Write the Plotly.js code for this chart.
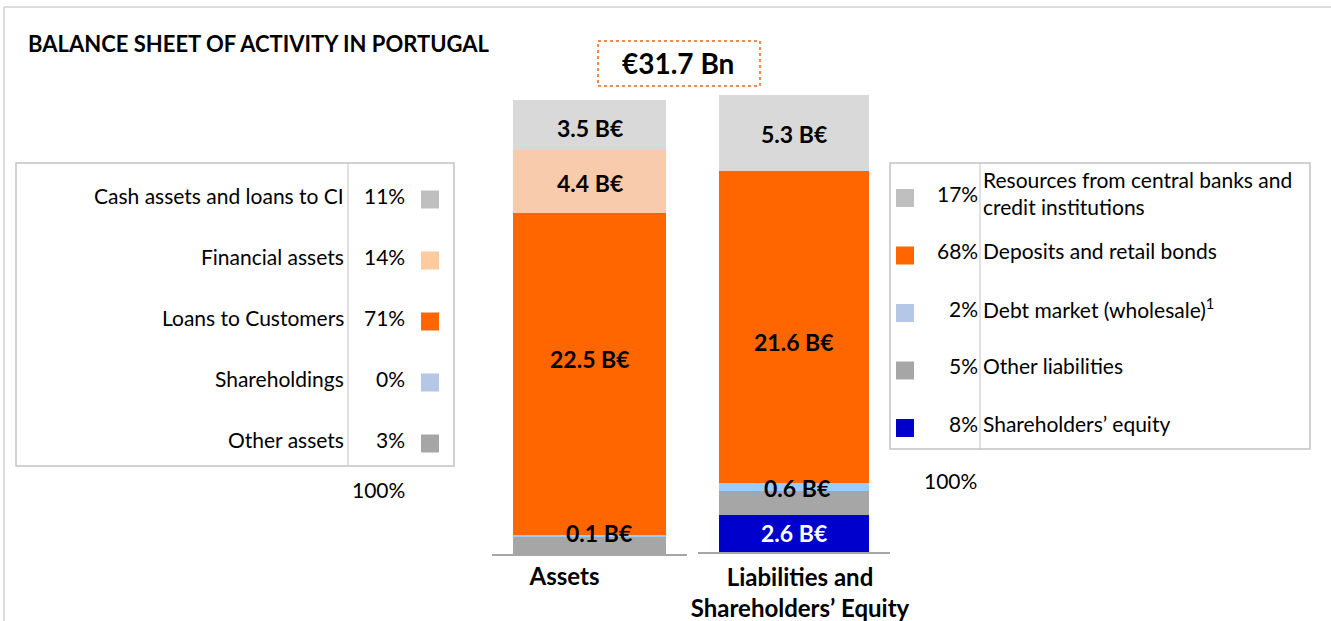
<!DOCTYPE html>
<html><head><meta charset="utf-8">
<script src="https://cdn.plot.ly/plotly-3.0.1.min.js"></script>
<style>html,body{margin:0;padding:0;background:#fff;overflow:hidden}#chart{width:1331px;height:621px}</style>
</head><body><div id="chart"></div>
<script>
// ---------- DATA ----------
const chartTitle = 'BALANCE SHEET OF ACTIVITY IN PORTUGAL';
const barCategories = ['Assets', 'Liabilities and<br>Shareholders’ Equity'];

// Assets, listed top to bottom as in the left table
const assetItems  = ['Cash assets and loans to CI', 'Financial assets', 'Loans to Customers', 'Shareholdings', 'Other assets'];
const assetValues = [3.5, 4.4, 22.5, 0.1, 1.2];          // B€
const assetPct    = [11, 14, 71, 0, 3];                   // %
const assetShowLabel = [true, true, true, true, false];

// Liabilities, listed top to bottom as in the right table
const liabItems  = ['Resources from central banks and<br>credit institutions', 'Deposits and retail bonds', 'Debt market (wholesale)<sup>1</sup>', 'Other liabilities', 'Shareholders’ equity'];
const liabValues = [5.3, 21.6, 0.6, 1.6, 2.6];            // B€
const liabPct    = [17, 68, 2, 5, 8];                     // %
const liabShowLabel = [true, true, true, false, true];

const totalPctLabel = '100%';

// ---------- STYLE ----------
const W = 1331, H = 621;
const FONT = 'Lato, "Open Sans", sans-serif';
const assetBarColors = ['#d9d9d9', '#f8cbad', '#ff6600', '#99ccff', '#a6a6a6'];
const assetKeyColors = ['#bfbfbf', '#fdcb9d', '#ff6600', '#b4c7e7', '#a6a6a6'];
const liabBarColors  = ['#d9d9d9', '#ff6600', '#99ccff', '#a6a6a6', '#0000cc'];
const liabKeyColors  = ['#bfbfbf', '#ff6600', '#b4c7e7', '#a6a6a6', '#0000cc'];
const assetLabelShift = [{dx:0,dy:-3},{dx:0,dy:-1},{dx:0,dy:15},{dx:9,dy:3},{dx:0,dy:0}];
const liabLabelShift  = [{dx:0,dy:-1},{dx:0,dy:-15},{dx:3,dy:-1},{dx:0,dy:0},{dx:0,dy:0}];
const liabLabelColor  = ['#000','#000','#000','#000','#ffffff'];

const px = x => x / W;
const py = y => 1 - y / H;

// ---------- TRACES ----------
const traces = [];
const annotations = [];
function stackTraces(items, values, colors, cat, xa, ya, show, shifts, labelColors) {
  // bottom to top
  let base = 0;
  for (let i = items.length - 1; i >= 0; i--) {
    traces.push({
      type: 'bar', x: [cat], y: [values[i]], name: items[i],
      xaxis: xa, yaxis: ya, width: 0.78,
      marker: {color: colors[i], line: {width: 0}},
      hoverinfo: 'skip', showlegend: false
    });
    if (show[i]) {
      annotations.push({
        xref: xa, yref: ya, x: cat, y: base + values[i] / 2,
        text: '<b>' + values[i].toFixed(1) + ' B€</b>', showarrow: false,
        xshift: shifts[i].dx, yshift: shifts[i].dy,
        font: {family: FONT, size: 23, color: labelColors ? labelColors[i] : '#000'}
      });
    }
    base += values[i];
  }
}
stackTraces(assetItems, assetValues, assetBarColors, barCategories[0], 'x', 'y', assetShowLabel, assetLabelShift, null);
stackTraces(liabItems, liabValues, liabBarColors, barCategories[1], 'x2', 'y2', liabShowLabel, liabLabelShift, liabLabelColor);

const total = assetValues.reduce((a, b) => a + b, 0);

// ---------- TEXT / TABLES ----------
annotations.push({xref:'paper', yref:'paper', x: px(26), y: py(44), xanchor:'left', yanchor:'middle',
  text:'<b>' + chartTitle + '</b>', showarrow:false, font:{family:FONT, size:22, color:'#000'}});
annotations.push({xref:'paper', yref:'paper', x: px(678), y: py(63), xanchor:'center', yanchor:'middle',
  text:'<b>€' + total.toFixed(1) + ' Bn</b>', showarrow:false, font:{family:FONT, size:28, color:'#000'}});

const shapes = [
  // outer frame (top + left)
  {type:'line', xref:'paper', yref:'paper', x0:px(4), x1:1, y0:py(7), y1:py(7), line:{color:'#d0d0d0', width:1.5}},
  {type:'line', xref:'paper', yref:'paper', x0:px(4), x1:px(4), y0:py(7), y1:0, line:{color:'#d0d0d0', width:1.5}},
  // total box
  {type:'rect', xref:'paper', yref:'paper', x0:px(598), x1:px(760), y0:py(86), y1:py(41), line:{color:'#f08a4b', width:2, dash:'dot'}},
  // left table
  {type:'rect', xref:'paper', yref:'paper', x0:px(16), x1:px(454), y0:py(466), y1:py(163), line:{color:'#c4c4c4', width:1.5}},
  {type:'line', xref:'paper', yref:'paper', x0:px(348), x1:px(348), y0:py(466), y1:py(163), line:{color:'#c4c4c4', width:1}},
  // right table
  {type:'rect', xref:'paper', yref:'paper', x0:px(890), x1:px(1310), y0:py(449), y1:py(163), line:{color:'#c4c4c4', width:1.5}},
  {type:'line', xref:'paper', yref:'paper', x0:px(980), x1:px(980), y0:py(449), y1:py(163), line:{color:'#c4c4c4', width:1}}
];

const TF = {family: FONT, size: 21, color: '#000'};
assetItems.forEach((name, i) => {
  const yc = 195.5 + i * 61;
  annotations.push({xref:'paper', yref:'paper', x:px(346), y:py(yc), xanchor:'right', yanchor:'middle', text:name, showarrow:false, font:TF});
  annotations.push({xref:'paper', yref:'paper', x:px(407), y:py(yc), xanchor:'right', yanchor:'middle', text:assetPct[i] + '%', showarrow:false, font:TF});
  shapes.push({type:'rect', xref:'paper', yref:'paper', x0:px(421), x1:px(439), y0:py(yc + 13), y1:py(yc - 5), fillcolor:assetKeyColors[i], line:{width:0}});
});
annotations.push({xref:'paper', yref:'paper', x:px(407), y:py(489), xanchor:'right', yanchor:'middle', text:totalPctLabel, showarrow:false, font:TF});

liabItems.forEach((name, i) => {
  const yc = i === 0 ? 193 : 193 + i * 57.5;
  annotations.push({xref:'paper', yref:'paper', x:px(981), y:py(yc), xanchor:'left', yanchor:'middle', align:'left', text:name, showarrow:false, font:TF});
  annotations.push({xref:'paper', yref:'paper', x:px(980), y:py(yc), xanchor:'right', yanchor:'middle', text:liabPct[i] + '%', showarrow:false, font:TF});
  shapes.push({type:'rect', xref:'paper', yref:'paper', x0:px(896), x1:px(914), y0:py(yc + 14), y1:py(yc - 4), fillcolor:liabKeyColors[i], line:{width:0}});
});
annotations.push({xref:'paper', yref:'paper', x:px(979), y:py(480), xanchor:'right', yanchor:'middle', text:totalPctLabel, showarrow:false, font:TF});

// ---------- AXES ----------
const xBase = {type:'category', showgrid:false, zeroline:false, showline:true, linecolor:'#a6a6a6', linewidth:2,
  ticks:'', fixedrange:true, tickfont:{family:FONT, size:24, color:'#000'}, range:[-0.5, 0.5]};
const yBase = {showgrid:false, zeroline:false, showline:false, showticklabels:false, ticks:'', fixedrange:true, range:[0, total]};

const layout = {
  width: W, height: H, margin: {l:0, r:0, t:0, b:0},
  paper_bgcolor:'#fff', plot_bgcolor:'rgba(0,0,0,0)',
  barmode:'stack', showlegend:false,
  xaxis:  Object.assign({}, xBase, {domain:[px(492), px(687)], anchor:'y', tickvals:[barCategories[0]], ticktext:['<b>Assets</b>'], ticklabelshift:-25, ticklabelstandoff:0}),
  yaxis:  Object.assign({}, yBase, {domain:[py(554), py(100)], anchor:'x'}),
  xaxis2: Object.assign({}, xBase, {domain:[px(698), px(890)], anchor:'y2', tickvals:[barCategories[1]], ticktext:['<b>Liabilities and<br>Shareholders’ Equity</b>'], ticklabelshift:6, ticklabelstandoff:3}),
  yaxis2: Object.assign({}, yBase, {domain:[py(552), py(95)], anchor:'x2'}),
  annotations, shapes
};

Plotly.newPlot('chart', traces, layout, {displayModeBar:false, staticPlot:true});
</script></body></html>
